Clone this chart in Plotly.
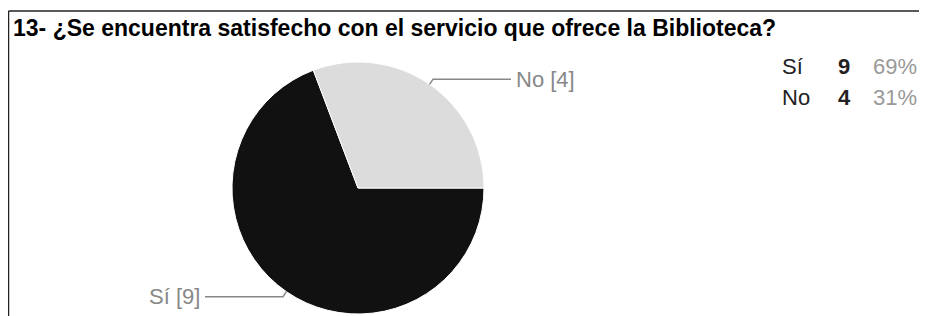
import math
import plotly.graph_objects as go

title = "13- ¿Se encuentra satisfecho con el servicio que ofrece la Biblioteca?"
labels = ["Sí", "No"]
values = [9, 4]
colors = ["#111111", "#dcdcdc"]

OFF = 8  # page body margin
W, H = 911, 308
cx, cy, R = 358, 188, 126  # pie placement in page px

def px(x):
    return (x - OFF) / W

def py(y):
    return 1 - (y - OFF) / H

FONT = "Arial, Liberation Sans"

fig = go.Figure()
fig.add_trace(go.Pie(
    labels=labels, values=values, sort=False, direction="clockwise", rotation=90,
    marker=dict(colors=colors, line=dict(color="white", width=1)),
    textinfo="none", showlegend=False,
    domain=dict(x=[px(cx - R), px(cx + R)], y=[max(0, py(cy + R)), py(cy - R)]),
))

shapes = []
annotations = []
# borders
shapes.append(dict(type="line", xref="paper", yref="paper", x0=px(8.5), x1=1, y0=py(11), y1=py(11),
                   line=dict(color="#222222", width=1.5)))
shapes.append(dict(type="line", xref="paper", yref="paper", x0=px(8.5), x1=px(8.5), y0=py(11), y1=0,
                   line=dict(color="#222222", width=1.5)))

annotations.append(dict(text="<b>" + title + "</b>", xref="paper", yref="paper", x=px(11), y=py(28),
                        xanchor="left", yanchor="middle", showarrow=False,
                        font=dict(family=FONT, size=23, color="#000000")))

# leader labels at slice mid angles
total = sum(values)
start = 90.0
for lab, v in zip(labels, values):
    span = 360.0 * v / total
    mid = math.radians(start + span / 2)
    start += span
    ex, ey = cx + R * math.sin(mid), cy - R * math.cos(mid)
    ox, oy = cx + (R + 6) * math.sin(mid), cy - (R + 6) * math.cos(mid)
    side = 1 if math.sin(mid) >= 0 else -1
    hx = ox + side * 78
    shapes.append(dict(type="path", xref="paper", yref="paper",
                       path=f"M {px(ex)} {py(ey)} L {px(ox)} {py(oy)} L {px(hx)} {py(oy)}",
                       line=dict(color="#888888", width=1.5)))
    annotations.append(dict(text=f"{lab} [{v}]", xref="paper", yref="paper", x=px(hx + side * 3), y=py(oy),
                            xanchor="left" if side > 0 else "right", yanchor="middle", showarrow=False,
                            font=dict(family=FONT, size=22, color="#888888")))

# summary table
rows_y = [66, 97]
for lab, v, ry in zip(labels, values, rows_y):
    pct = round(100 * v / total)
    annotations.append(dict(text=lab, xref="paper", yref="paper", x=px(780), y=py(ry), xanchor="left",
                            yanchor="middle", showarrow=False,
                            font=dict(family=FONT, size=22, color="#222222")))
    annotations.append(dict(text=f"<b>{v}</b>", xref="paper", yref="paper", x=px(836), y=py(ry), xanchor="left",
                            yanchor="middle", showarrow=False,
                            font=dict(family=FONT, size=22, color="#222222")))
    annotations.append(dict(text=f"{pct}%", xref="paper", yref="paper", x=1, y=py(ry), xanchor="right",
                            yanchor="middle", showarrow=False,
                            font=dict(family=FONT, size=22, color="#999999")))

fig.update_layout(width=W, height=H, margin=dict(l=0, r=0, t=0, b=0),
                  paper_bgcolor="white", plot_bgcolor="white",
                  shapes=shapes, annotations=annotations)
fig.write_html("out.html")
